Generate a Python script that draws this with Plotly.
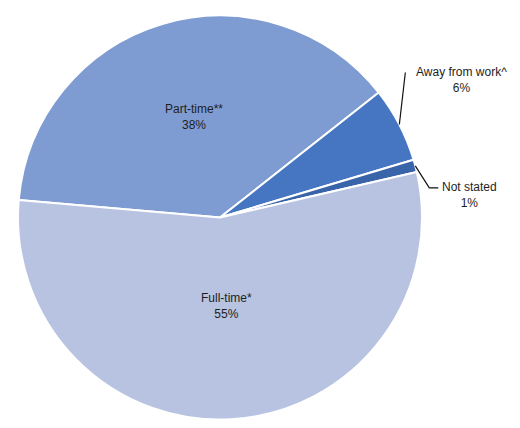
import math
import plotly.graph_objects as go

# Labour force status shares (percent)
categories = ["Part-time**", "Away from work^", "Not stated", "Full-time*"]
shares = [38, 6, 1, 55]
colors = ["#7e9cd2", "#4676c2", "#3a64aa", "#b7c3e1"]

W, H = 520, 428
ML, MR, MT, MB = 18, 98, 15, 8
ROTATION = -85  # clockwise from 12 o'clock where the first slice starts

fig = go.Figure(go.Pie(
    labels=categories,
    values=shares,
    sort=False,
    direction="clockwise",
    rotation=ROTATION,
    marker=dict(colors=colors, line=dict(color="white", width=2)),
    textinfo="none",
    hoverinfo="label+percent",
    showlegend=False,
))

# pie geometry in pixels (plotly fits the pie into the plot area)
pw, ph = W - ML - MR, H - MT - MB
R = min(pw, ph) / 2
cx, cy = ML + pw / 2, MT + ph / 2


def to_paper(px, py):
    return (px - ML) / pw, (H - MB - py) / ph


def polar(angle_deg, r):
    a = math.radians(angle_deg)
    return cx + r * math.sin(a), cy - r * math.cos(a)


total = sum(shares)
mids = []
start = ROTATION
for v in shares:
    span = 360 * v / total
    mids.append(start + span / 2)
    start += span

font = dict(family="Liberation Sans, Arial, sans-serif", size=12, color="#1e1e1e")
annotations = []
shapes = []


def label(px, py, text):
    xp, yp = to_paper(px, py)
    annotations.append(dict(x=xp, y=yp, xref="paper", yref="paper", text=text,
                            xanchor="center", yanchor="middle",
                            showarrow=False, font=font, align="center"))


# inside labels for the two large slices
inside_r = {0: 0.52, 3: 0.44}
for i, frac in inside_r.items():
    x, y = polar(mids[i], R * frac)
    label(x + (4 if i == 0 else 0), y, f"{categories[i]}<br>{shares[i]}%")

# Away from work: straight leader from the rim up to the label
rx, ry = polar(mids[1], R)
ex, ey = rx + 6, ry - 52
x0, y0 = to_paper(rx, ry)
x1, y1 = to_paper(ex, ey)
shapes.append(dict(type="line", xref="paper", yref="paper", x0=x0, y0=y0, x1=x1, y1=y1,
                   line=dict(color="#111111", width=1.2)))
label(ex + 56, ey + 7, f"Away from work^<br>{shares[1]}%")

# Not stated: elbow leader from the rim to the label
rx, ry = polar(mids[2], R)
kx, ky = rx + 14, ry + 22
hx, hy = kx + 9, ky
pts = [(rx, ry), (kx, ky), (hx, hy)]
path = "M " + " L ".join(f"{to_paper(a, b)[0]},{to_paper(a, b)[1]}" for a, b in pts)
shapes.append(dict(type="path", xref="paper", yref="paper", path=path,
                   line=dict(color="#111111", width=1.2)))
label(hx + 31, hy + 7, f"Not stated<br>{shares[2]}%")

fig.update_layout(
    width=W, height=H,
    margin=dict(l=ML, r=MR, t=MT, b=MB),
    paper_bgcolor="white", plot_bgcolor="white",
    annotations=annotations, shapes=shapes,
)

fig.write_html("out.html")
